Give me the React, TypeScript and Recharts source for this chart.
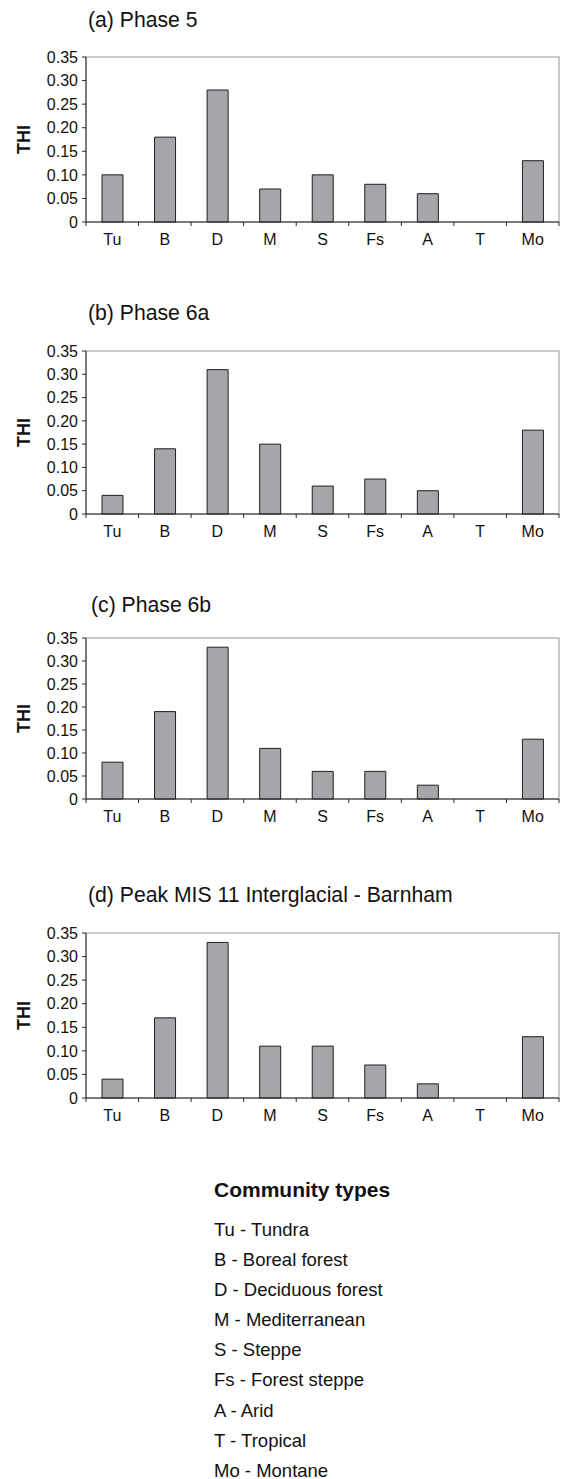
import { Bar, BarChart, Label, ReferenceArea, XAxis, YAxis } from 'recharts'

const categories = ['Tu', 'B', 'D', 'M', 'S', 'Fs', 'A', 'T', 'Mo']
const communityNames = [
  'Tundra',
  'Boreal forest',
  'Deciduous forest',
  'Mediterranean',
  'Steppe',
  'Forest steppe',
  'Arid',
  'Tropical',
  'Montane',
]
const thiTicks = [0, 0.05, 0.1, 0.15, 0.2, 0.25, 0.3, 0.35]

const phase5 = [0.1, 0.18, 0.28, 0.07, 0.1, 0.08, 0.06, 0, 0.13]
const phase6a = [0.04, 0.14, 0.31, 0.15, 0.06, 0.075, 0.05, 0, 0.18]
const phase6b = [0.08, 0.19, 0.33, 0.11, 0.06, 0.06, 0.03, 0, 0.13]
const barnham = [0.04, 0.17, 0.33, 0.11, 0.11, 0.07, 0.03, 0, 0.13]

const panelTitles = ['(a) Phase 5', '(b) Phase 6a', '(c) Phase 6b', '(d) Peak MIS 11 Interglacial - Barnham']
const panelValues = [phase5, phase6a, phase6b, barnham]

// page layout (px)
const layout = [
  { titleX: 88, titleY: 20, top: 57, height: 165 },
  { titleX: 88, titleY: 313, top: 351, height: 163 },
  { titleX: 91, titleY: 605, top: 638, height: 161 },
  { titleX: 88, titleY: 895, top: 933, height: 165 },
]

const FONT = "'Liberation Sans', Arial, Helvetica, sans-serif"
const INK = '#111'
const AXIS = '#2a2a2a'
const FRAME = '#b8b8b8'
const PLOT_LEFT = 86
const PLOT_RIGHT = 559
const WIDTH = 562
const TICK = 4

const fmt = (v: number) => (v === 0 ? '0' : v.toFixed(2))

function CategoryTick(props: any) {
  const { x, y, payload, index, visibleTicksCount } = props
  const half = payload?.offset ?? 0
  const axisY = y - TICK
  return (
    <g>
      <line x1={x - half} x2={x - half} y1={axisY} y2={axisY + TICK} stroke={AXIS} />
      {index === visibleTicksCount - 1 && (
        <line x1={x + half} x2={x + half} y1={axisY} y2={axisY + TICK} stroke={AXIS} />
      )}
      <text
        x={x}
        y={axisY + 17.5}
        textAnchor="middle"
        dominantBaseline="central"
        fontSize={16}
        fontFamily={FONT}
        fill={INK}
      >
        {payload.value}
      </text>
    </g>
  )
}

function ThiLabel(props: any) {
  const vb = props.viewBox ?? {}
  const cy = (vb.y ?? 0) + (vb.height ?? 0) / 2
  return (
    <text
      x={24}
      y={cy}
      transform={`rotate(-90 24 ${cy})`}
      textAnchor="middle"
      dominantBaseline="central"
      fontSize={18}
      fontWeight="bold"
      fontFamily={FONT}
      fill={INK}
    >
      THI
    </text>
  )
}

function Panel({ idx }: { idx: number }) {
  const { titleX, titleY, top, height } = layout[idx]
  const data = categories.map((cat, i) => ({ cat, thi: panelValues[idx][i] }))
  const marginTop = 14
  return (
    <>
      <div
        style={{
          position: 'absolute',
          left: titleX,
          top: titleY - 13,
          fontSize: 21.2,
          lineHeight: '26px',
          whiteSpace: 'nowrap',
          color: INK,
        }}
      >
        {panelTitles[idx]}
      </div>
      <div style={{ position: 'absolute', left: 0, top: top - marginTop }}>
        <BarChart
          width={WIDTH}
          height={marginTop + height + 40}
          data={data}
          margin={{ top: marginTop, right: WIDTH - PLOT_RIGHT, left: 0, bottom: 0 }}
        >
          <ReferenceArea y1={0} y2={0.35} fill="none" stroke={FRAME} strokeWidth={1.5} />
          <XAxis
            dataKey="cat"
            height={40}
            interval={0}
            tickSize={TICK}
            tickMargin={0}
            tickLine={false}
            axisLine={{ stroke: AXIS }}
            tick={<CategoryTick />}
          />
          <YAxis
            width={PLOT_LEFT}
            domain={[0, 0.35]}
            ticks={thiTicks}
            interval={0}
            tickSize={TICK}
            tickMargin={4}
            tickFormatter={fmt}
            tick={{ fontSize: 16, fill: INK, fontFamily: FONT }}
            tickLine={{ stroke: AXIS }}
            axisLine={{ stroke: AXIS }}
          >
            <Label content={<ThiLabel />} />
          </YAxis>
          <Bar
            dataKey="thi"
            fill="#a5a6aa"
            stroke="#1f1f1f"
            strokeWidth={1}
            barSize={21}
            isAnimationActive={false}
          />
        </BarChart>
      </div>
    </>
  )
}

export default function App() {
  return (
    <div
      style={{
        position: 'absolute',
        left: 0,
        top: 0,
        width: WIDTH,
        height: 1479,
        background: '#fff',
        fontFamily: FONT,
        color: INK,
      }}
    >
      {panelTitles.map((_, i) => (
        <Panel key={i} idx={i} />
      ))}
      <div style={{ position: 'absolute', left: 214, top: 1177 }}>
        <div style={{ fontWeight: 'bold', fontSize: 21, lineHeight: '26px', marginBottom: 12 }}>
          Community types
        </div>
        {categories.map((c, i) => (
          <div key={c} style={{ fontSize: 18.5, lineHeight: '30.1px', whiteSpace: 'nowrap' }}>
            {c} - {communityNames[i]}
          </div>
        ))}
      </div>
    </div>
  )
}
